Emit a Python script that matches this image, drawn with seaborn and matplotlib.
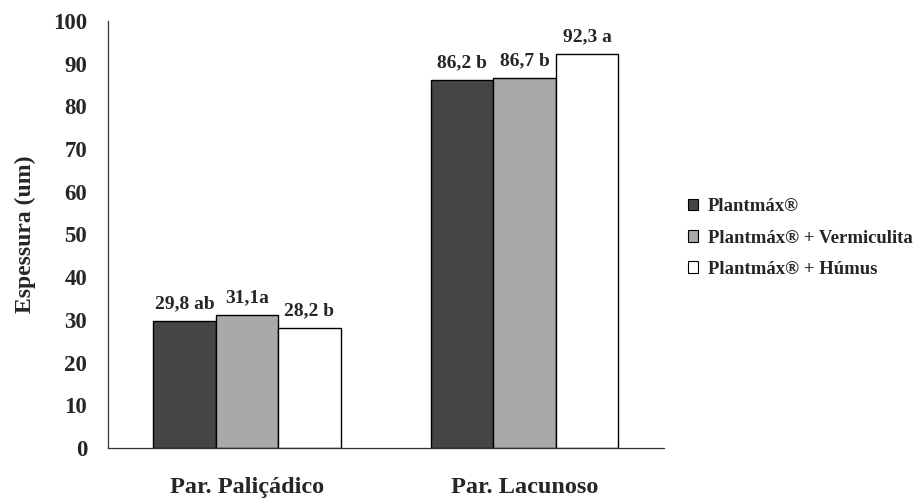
import matplotlib
matplotlib.use("Agg")
import matplotlib.pyplot as plt
import seaborn as sns
import pandas as pd
from matplotlib.patches import Patch

categories = ["Par. Paliçádico", "Par. Lacunoso"]
treatments = ["Plantmáx®", "Plantmáx® + Vermiculita", "Plantmáx® + Húmus"]
values = {
    "Plantmáx®": [29.8, 86.2],
    "Plantmáx® + Vermiculita": [31.1, 86.7],
    "Plantmáx® + Húmus": [28.2, 92.3],
}
letters = {
    "Plantmáx®": ["ab", "b"],
    "Plantmáx® + Vermiculita": ["a", "b"],
    "Plantmáx® + Húmus": ["b", "a"],
}
label_sep = {
    "Plantmáx®": [" ", " "],
    "Plantmáx® + Vermiculita": ["", " "],
    "Plantmáx® + Húmus": [" ", " "],
}
yticks = [0, 10, 20, 30, 40, 50, 60, 70, 80, 90, 100]
colors = ["#454545", "#a9a9a9", "#ffffff"]

rows = []
for t in treatments:
    for c, v in zip(categories, values[t]):
        rows.append({"Camada": c, "Tratamento": t, "Espessura": v})
df = pd.DataFrame(rows)

sns.set_style("white")
plt.rcParams["font.family"] = ["Liberation Serif", "DejaVu Serif"]
plt.rcParams["font.weight"] = "bold"

fig = plt.figure(figsize=(9.23, 4.98), dpi=100)
ax = fig.add_axes([0.117, 0.1004, 0.602, 0.8576])

sns.barplot(data=df, x="Camada", y="Espessura", hue="Tratamento",
            hue_order=treatments, order=categories, palette=colors,
            edgecolor="black", linewidth=1.0, width=0.675, saturation=1,
            ax=ax, legend=False)

# value + significance letter above each bar
for cont, t in zip(ax.containers, treatments):
    for bar, v, l, s in zip(cont, values[t], letters[t], label_sep[t]):
        txt = f"{v:.1f}".replace(".", ",") + s + l
        ax.text(bar.get_x() + bar.get_width() / 2, v + 3.0, txt,
                ha="center", va="baseline", fontsize=14, fontweight="bold")

ax.set_xlim(-0.5, 1.5)
ax.set_ylim(0, 100)
ax.set_yticks(yticks)
ax.set_yticklabels([str(v) for v in yticks], fontsize=16.5, fontweight="bold")
ax.set_xticks([0, 1])
ax.set_xticklabels(categories, fontsize=17.5, fontweight="bold")
ax.tick_params(axis="x", length=0, pad=21)
ax.set_xticks([-0.5, 0.5, 1.5], minor=True)
ax.tick_params(axis="x", which="minor", direction="out", length=5, width=0.8, color="#333333")
ax.tick_params(axis="y", direction="out", length=5, width=0.8, color="#333333", pad=10)
ax.set_xlabel("")
ax.set_ylabel("Espessura (um)", fontsize=17, fontweight="bold", labelpad=12)

for side in ["top", "right"]:
    ax.spines[side].set_visible(False)
for side in ["left", "bottom"]:
    ax.spines[side].set_color("#333333")
    ax.spines[side].set_linewidth(0.9)

handles = [Patch(facecolor=c, edgecolor="black", linewidth=0.8) for c in colors]
fig.legend(handles, treatments, loc="center left", bbox_to_anchor=(0.727, 0.522),
           frameon=False, prop={"size": 13.5, "weight": "bold"},
           handlelength=0.55, handleheight=0.55, handletextpad=0.5, labelspacing=0.75)

fig.savefig("out.png", dpi=100)
